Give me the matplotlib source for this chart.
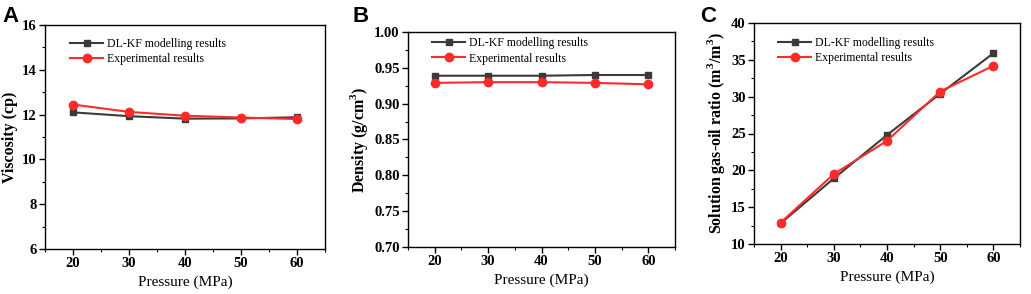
import numpy as np
import matplotlib
matplotlib.use("Agg")
import matplotlib.pyplot as plt
from matplotlib.ticker import MultipleLocator, FormatStrFormatter

# data
pressure = [20, 30, 40, 50, 60]

visc_model = [12.10, 11.93, 11.82, 11.83, 11.88]
visc_exp = [12.45, 12.12, 11.95, 11.87, 11.80]

dens_model = [0.939, 0.939, 0.939, 0.940, 0.940]
dens_exp = [0.929, 0.930, 0.930, 0.929, 0.927]

gor_model = [12.8, 18.9, 24.8, 30.4, 35.9]
gor_exp = [12.9, 19.5, 24.0, 30.7, 34.2]

plt.rcParams['font.family'] = ['Liberation Serif', 'DejaVu Serif']
plt.rcParams['font.weight'] = 'bold'
plt.rcParams['mathtext.fontset'] = 'custom'
plt.rcParams['mathtext.rm'] = 'Liberation Serif'
plt.rcParams['mathtext.bf'] = 'Liberation Serif:bold'

W, H = 1031, 294
fig = plt.figure(figsize=(W / 100, H / 100), dpi=100)

def px_axes(l, r, t, b):
    return fig.add_axes([l / W, 1 - b / H, (r - l) / W, (b - t) / H])

panels = [
    dict(box=(45, 325, 25, 249), model=visc_model, exp=visc_exp, ylim=(6, 16), major=2, minor=1,
         ylabel='Viscosity (cp)', fmt='%d', letter='A', lx=2, ly=22, leg=(0.06, 0.98)),
    dict(box=(408, 675, 32, 247), model=dens_model, exp=dens_exp, ylim=(0.70, 1.00), major=0.05, minor=0.025,
         ylabel=r'Density (g/cm$^\mathbf{3}$)', fmt='%.2f', letter='B', lx=352, ly=22, leg=(0.06, 1.015)),
    dict(box=(754, 1020, 23, 244), model=gor_model, exp=gor_exp, ylim=(10, 40), major=5, minor=2.5,
         ylabel=r'Solution gas-oil ratio (m$^\mathbf{3}$/m$^\mathbf{3}$)', fmt='%d', letter='C', lx=700, ly=22, leg=(0.06, 0.975)),
]

for p in panels:
    ax = px_axes(*p['box'])
    ax.plot(pressure, p['model'], color='#3a3a3a', marker='s', markersize=5, lw=1.5,
            label='DL-KF modelling results')
    ax.plot(pressure, p['exp'], color='#ff2a2a', marker='o', markersize=6, lw=1.5,
            label='Experimental results')
    ax.set_xlim(15, 65)
    ax.set_ylim(*p['ylim'])
    ax.xaxis.set_major_locator(MultipleLocator(10))
    ax.xaxis.set_minor_locator(MultipleLocator(5))
    ax.yaxis.set_major_locator(MultipleLocator(p['major']))
    ax.yaxis.set_minor_locator(MultipleLocator(p['minor']))
    ax.yaxis.set_major_formatter(FormatStrFormatter(p['fmt']))
    ax.tick_params(which='major', direction='out', length=4, width=1, labelsize=10.5, pad=2)
    ax.tick_params(which='minor', direction='out', length=2, width=0.8)
    for s in ax.spines.values():
        s.set_linewidth(1)
    ax.set_xlabel('Pressure (MPa)', fontsize=11, fontweight='normal', labelpad=4)
    ax.set_ylabel(p['ylabel'], fontsize=11.5, fontweight='bold', labelpad=3)
    ax.legend(loc='upper left', bbox_to_anchor=p['leg'], frameon=False,
              prop={'size': 8.5, 'weight': 'normal'},
              handlelength=2.8, handletextpad=0.3, labelspacing=0.3, borderaxespad=0.3)
    fig.text(p['lx'] / W, 1 - p['ly'] / H, p['letter'], fontsize=16, fontweight='bold',
             family='Liberation Sans', ha='left', va='baseline')

fig.savefig('out.png', dpi=100)
